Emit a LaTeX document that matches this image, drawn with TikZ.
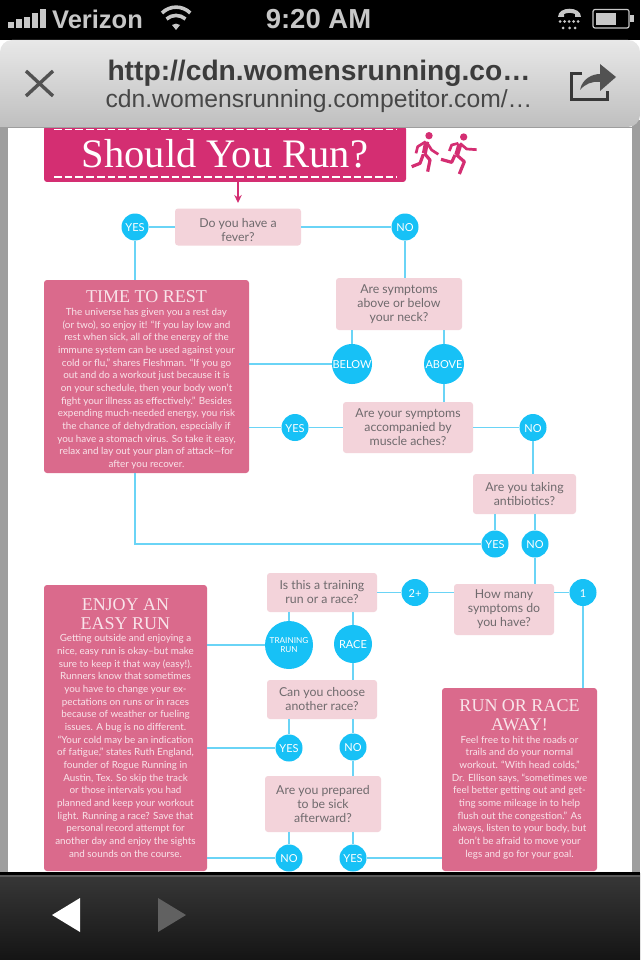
\documentclass[tikz,border=0pt]{standalone}
\usepackage{fontspec}
\setmainfont{Lato}
\newfontfamily\headfont{Liberation Serif}
\newfontfamily\barfont{Liberation Sans}
\usetikzlibrary{arrows.meta}
\definecolor{cyanfill}{HTML}{17C1F6}
\definecolor{linkline}{HTML}{6AD4F6}
\definecolor{paleask}{HTML}{F3D3DA}
\definecolor{askink}{HTML}{6F6A6D}
\definecolor{rosebox}{HTML}{DA6A8C}
\definecolor{rosetext}{HTML}{F9E4EA}
\definecolor{magenta}{HTML}{D42E72}
\definecolor{chromeink}{HTML}{3C3C3C}

\begin{document}
\begin{tikzpicture}[
    x=1pt, y=-1pt,
    link/.style={draw=linkline, line width=1.4pt},
    ask/.style={fill=paleask, rounded corners=3pt, inner sep=0pt, align=center,
        text=askink, font=\fontsize{12.3}{14}\selectfont, execute at begin node=\rule{0pt}{12.5pt}},
    verdict/.style={fill=rosebox, rounded corners=3pt, inner sep=0pt, align=center,
        text=rosetext, font=\fontsize{9.85}{12.67}\selectfont},
    answer/.style={circle, fill=cyanfill, inner sep=0pt, minimum size=27pt, align=center,
        text=white, font=\fontsize{11}{12}\selectfont, execute at begin node=\rule{0pt}{10pt}},
    bigans/.style={answer, minimum size=40pt},
    limb/.style={draw=magenta, line width=2.7pt, line join=round},
    shin/.style={draw=magenta, line width=3.2pt, line join=round},
    torso/.style={draw=magenta, line width=5pt}
]
\useasboundingbox (0,0) rectangle (640,960);
\newcommand{\boxhead}{\headfont\fontsize{18}{19}\selectfont}

% page behind the browser
\fill[black!38] (0,120) rectangle (640,880);
\fill[white] (8,120) rectangle (632,880);

% banner
\node[fill=magenta, rounded corners=3pt, minimum width=362pt, minimum height=56pt, inner sep=0pt,
    text=white, font=\headfont\fontsize{40.5}{44}\selectfont] (banner) at (225,154) {Should You Run?};
\draw[white, line width=1.3pt, dash pattern=on 7.7pt off 3pt] (54,129.5) -- (397,129.5);
\draw[white, line width=1.3pt, dash pattern=on 7.7pt off 3pt] (54,177) -- (397,177);
\coordinate (feverin) at (238,203);
\draw[draw=magenta, line width=1.3pt, -{Stealth[length=8pt,width=7.5pt]}] (banner.south -| feverin) -- (feverin);

% two runners
\begin{scope}[shift={(405,125)}, scale=1/3]
\fill[magenta] (72,32) circle (11);
\draw[torso] (65,50) -- (58,85);
\draw[limb] (62,50) -- (38,65) -- (33,85);
\draw[limb] (65,52) -- (80,75) -- (100,88);
\draw[shin] (58,85) -- (75,105) -- (68,140);
\draw[shin] (55,88) -- (45,115) -- (20,125);
\fill[magenta] (176,36) circle (11);
\draw[torso] (165,57) -- (155,90);
\draw[limb] (165,55) -- (185,72) -- (215,74);
\draw[limb] (160,55) -- (140,60) -- (133,78);
\draw[shin] (155,90) -- (178,110) -- (163,147);
\draw[shin] (150,90) -- (140,112) -- (108,103);
\end{scope}

% questions
\node[ask, minimum width=126pt, minimum height=37pt] (fever) at (238,227) {\rule{0pt}{15pt}Do you have a\\fever?};
\node[ask, minimum width=126pt, minimum height=52pt] (neck) at (399,304) {Are symptoms\\above or below\\your neck?};
\node[ask, minimum width=130pt, minimum height=51pt] (aches) at (408,427.5) {Are your symptoms\\accompanied by\\muscle aches?};
\node[ask, minimum width=103pt, minimum height=40pt] (antibio) at (524.5,494) {Are you taking\\antibiotics?};
\node[ask, minimum width=100pt, minimum height=51pt] (howmany) at (504,609.5) {How many\\symptoms do\\you have?};
\node[ask, minimum width=110pt, minimum height=39pt] (train) at (322,592.5) {Is this a training\\run or a race?};
\node[ask, minimum width=110pt, minimum height=39pt] (choose) at (322,699.5) {Can you choose\\another race?};
\node[ask, minimum width=116pt, minimum height=56pt] (prepared) at (323,804) {Are you prepared\\to be sick\\afterward?};

% verdicts
\node[verdict, minimum width=205pt, minimum height=193pt] (rest) at (146.5,376.5) {%
    {\boxhead\rule{0pt}{19pt}TIME TO REST}\\
    The universe has given you a rest day\\
    (or two), so enjoy it! “If you lay low and\\
    rest when sick, all of the energy of the\\
    immune system can be used against your\\
    cold or flu,” shares Fleshman. “If you go\\
    out and do a workout just because it is\\
    on your schedule, then your body won’t\\
    fight your illness as effectively.” Besides\\
    expending much-needed energy, you risk\\
    the chance of dehydration, especially if\\
    you have a stomach virus. So take it easy,\\
    relax and lay out your plan of attack—for\\
    after you recover.};
\node[verdict, minimum width=163pt, minimum height=286pt] (easy) at (125.5,728) {%
    {\boxhead ENJOY AN}\\[6pt]
    {\boxhead EASY RUN}\\
    Getting outside and enjoying a\\
    nice, easy run is okay–but make\\
    sure to keep it that way (easy!).\\
    Runners know that sometimes\\
    you have to change your ex-\\
    pectations on runs or in races\\
    because of weather or fueling\\
    issues. A bug is no different.\\
    “Your cold may be an indication\\
    of fatigue,” states Ruth England,\\
    founder of Rogue Running in\\
    Austin, Tex. So skip the track\\
    or those intervals you had\\
    planned and keep your workout\\
    light. Running a race? Save that\\
    personal record attempt for\\
    another day and enjoy the sights\\
    and sounds on the course.};
\node[verdict, minimum width=155pt, minimum height=183pt] (away) at (519.5,779.5) {%
    {\boxhead RUN OR RACE}\\[6pt]
    {\boxhead AWAY!}\\
    Feel free to hit the roads or\\
    trails and do your normal\\
    workout. “With head colds,”\\
    Dr. Ellison says, “sometimes we\\
    feel better getting out and get-\\
    ting some mileage in to help\\
    flush out the congestion.” As\\
    always, listen to your body, but\\
    don’t be afraid to move your\\
    legs and go for your goal.};

% answers
\node[answer] (yesfever) at (135,227) {YES};
\node[answer] (nofever) at (405,227) {NO};
\node[bigans] (below) at (352,364) {BELOW};
\node[bigans] (above) at (444,364) {ABOVE};
\node[answer] (yesaches) at (295,427.5) {YES};
\node[answer] (noaches) at (533,427.5) {NO};
\node[answer] (yesanti) at (495,544) {YES};
\node[answer] (noanti) at (535,544) {NO};
\node[answer] (two) at (415,592.5) {2+};
\node[answer] (one) at (583,592.5) {1};
\node[answer, minimum size=48pt, font=\fontsize{8.2}{9.5}\selectfont] (trainrun) at (289,645) {TRAINING\\RUN};
\node[answer, minimum size=38pt] (racerun) at (353,644) {RACE};
\node[answer] (yeschoose) at (289,748) {YES};
\node[answer] (nochoose) at (353,747) {NO};
\node[answer] (noprep) at (289,858) {NO};
\node[answer] (yesprep) at (353,858) {YES};

% connectors
\coordinate (restin) at (135,544);
\draw[link] (yesfever) -- (fever);
\draw[link] (fever) -- (nofever);
\draw[link] (yesfever) -- (yesfever |- rest.north);
\draw[link] (nofever) -- (nofever |- neck.north);
\draw[link] (below |- neck.south) -- (below);
\draw[link] (above |- neck.south) -- (above);
\draw[link] (below) -- (below -| rest.east);
\draw[link] (above) -- (above |- aches.north);
\draw[link] (rest.east |- yesaches) -- (yesaches);
\draw[link] (yesaches) -- (aches);
\draw[link] (aches) -- (noaches);
\draw[link] (noaches) -- (noaches |- antibio.north);
\draw[link] (yesanti |- antibio.south) -- (yesanti);
\draw[link] (noanti |- antibio.south) -- (noanti);
\draw[link] (rest.south -| restin) -- (restin) -- (yesanti);
\draw[link] (noanti) -- (noanti |- howmany.north);
\draw[link] (two) -- (two -| howmany.west);
\draw[link] (train) -- (two);
\draw[link] (howmany.east |- one) -- (one);
\draw[link] (one) -- (one |- away.north);
\draw[link] (trainrun |- train.south) -- (trainrun);
\draw[link] (racerun |- train.south) -- (racerun);
\draw[link] (trainrun) -- (trainrun -| easy.east);
\draw[link] (racerun) -- (racerun |- choose.north);
\draw[link] (yeschoose |- choose.south) -- (yeschoose);
\draw[link] (nochoose |- choose.south) -- (nochoose);
\draw[link] (yeschoose) -- (yeschoose -| easy.east);
\draw[link] (nochoose) -- (nochoose |- prepared.north);
\draw[link] (noprep |- prepared.south) -- (noprep);
\draw[link] (yesprep |- prepared.south) -- (yesprep);
\draw[link] (noprep) -- (noprep -| easy.east);
\draw[link] (yesprep) -- (yesprep -| away.west);

% status bar
\fill[black] (0,0) rectangle (640,40);
\foreach \x/\top in {8/22,16/19,24/17,32/13,40/9} {
    \fill[black!22] (\x,\top) rectangle (\x+6,28);
}
\node[text=black!22, font=\barfont\bfseries\fontsize{25.5}{27}\selectfont, anchor=base west, inner sep=0pt] (carrier) at (52,28.5) {Verizon};
\node[text=black!22, font=\barfont\bfseries\fontsize{27.5}{27}\selectfont, anchor=base, inner sep=0pt] (clock) at (318.5,28.5) {9:20 AM};
\fill[black!22] (176,30) -- (172,25) arc (232:308:6.5) -- cycle;
\draw[black!22, line width=3.6pt] (166.5,19) arc (229:311:14.5);
\draw[black!22, line width=3.6pt] (162,13) arc (225:315:20);
\fill[black!22] (558,17) .. controls (558,6) and (581,6) .. (581,17) -- (575,17) -- (575,14) .. controls (572,12.5) and (567,12.5) .. (564,14) -- (564,17) -- cycle;
\foreach \x/\y in {560/21.5,564.5/21.5,569/21.5,573.5/21.5,578/21.5,563/28,569.5/28,575/28} {
    \fill[black!22] (\x,\y) circle (1.5);
}
\draw[black!22, line width=1.2pt, rounded corners=2pt] (593,9.5) rectangle (629,28);
\fill[black!22] (596,13) rectangle (616,25);
\fill[black!22] (630,15) rectangle (634,22);

% browser bar
\shade[top color=black!9, bottom color=black!25, rounded corners=12pt]
    (0,127) -- (0,40) -- (640,40) -- (640,127) [sharp corners] -- cycle;
\fill[black!38] (0,127) rectangle (640,128.5);
\draw[black!68, line width=3.4pt] (26,71) -- (53,96);
\draw[black!68, line width=3.4pt] (53,71) -- (26,96);
\node[text=chromeink, font=\barfont\bfseries\fontsize{28.2}{28}\selectfont, anchor=base, inner sep=0pt] (pagetitle) at (319,81) {http://cdn.womensrunning.co…};
\node[text=black!72, font=\barfont\fontsize{24.7}{24}\selectfont, anchor=base, inner sep=0pt] (pageurl) at (319,108) {cdn.womensrunning.competitor.com/…};
\draw[black!78, line width=3pt] (582,74) -- (571.5,74) -- (571.5,100) -- (607,100) -- (607,91);
\fill[black!68] (580,90) .. controls (582,79) and (592,74) .. (600,74) -- (600,64) -- (616,77) -- (600,91) -- (600,82) .. controls (592,81) and (585,84) .. (580,90) -- cycle;

% bottom bar
\shade[top color=black!78, bottom color=black!92] (0,873) rectangle (640,960);
\fill[black] (0,872) rectangle (640,875);
\fill[black!65] (0,875) rectangle (640,877);
\fill[white] (52,915) -- (80,898) -- (80,932) -- cycle;
\fill[black!62] (186,915) -- (158,898) -- (158,932) -- cycle;
\end{tikzpicture}
\end{document}
